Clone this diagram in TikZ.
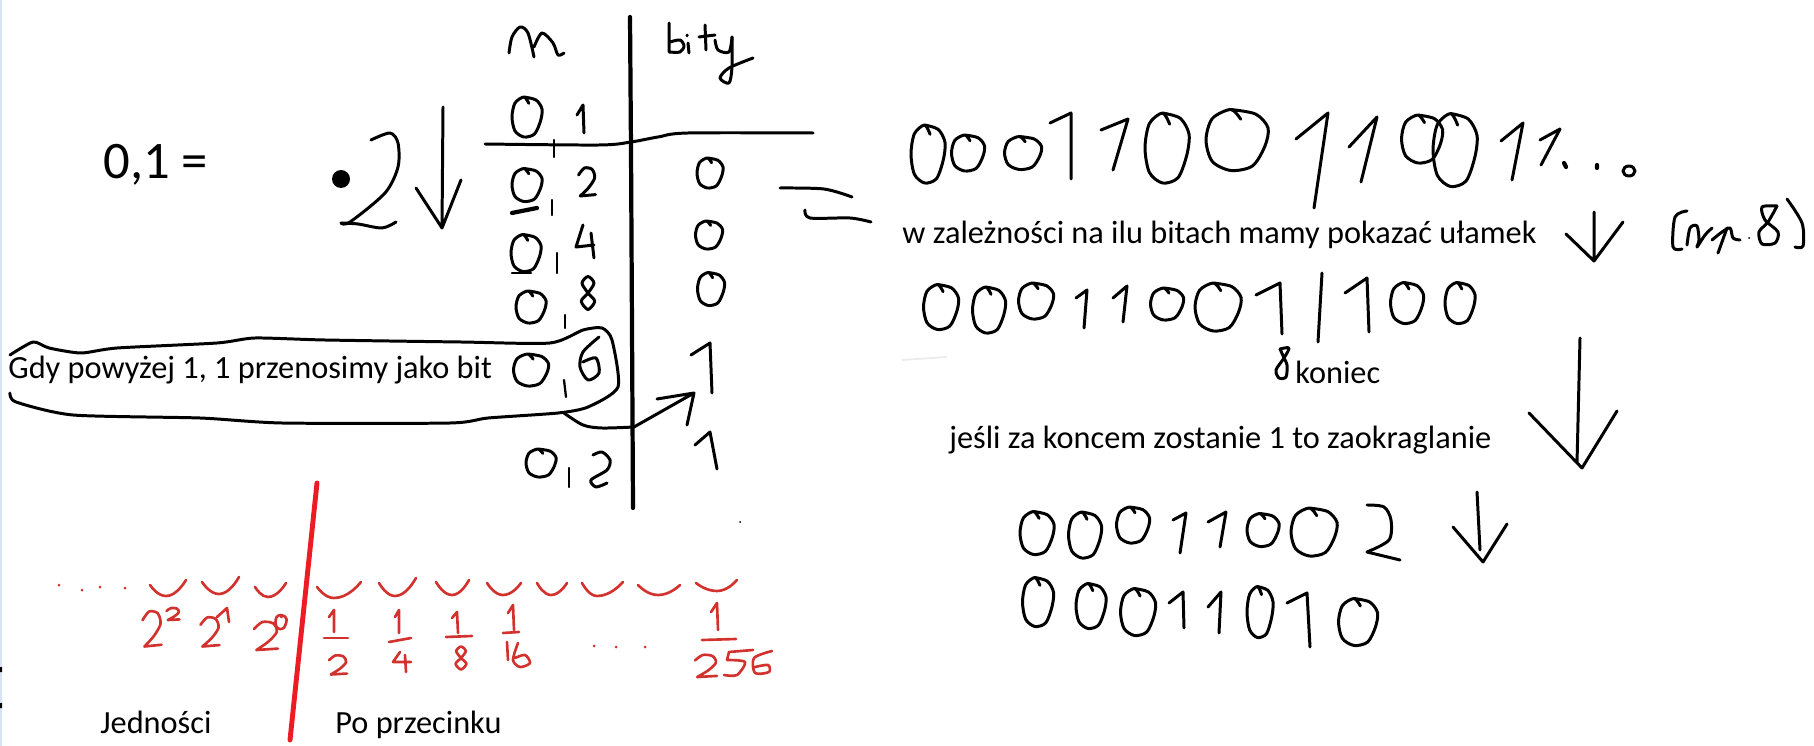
\documentclass[tikz,border=0pt]{standalone}
\usepackage{fontspec}
\setmainfont{Carlito}
\usetikzlibrary{arrows.meta,positioning}
\definecolor{handred}{HTML}{D2322D}
\definecolor{cutred}{HTML}{ED1C24}
\definecolor{edgeblue}{HTML}{D5E3F2}

\newcommand\zerodig[5][pen]{\draw[#1,shift={(#2,#3)},xscale=#4/2,yscale=#5/2] plot[smooth] coordinates {(0.12,-0.68)(-0.2,-1)(-0.8,-0.7)(-1,0)(-0.8,0.7)(-0.2,1)(0.5,0.85)(0.9,0.2)(1,-0.4)(0.6,-0.85)(-0.2,-1)};}
\newcommand\onedig[4][pen]{\draw[#1] (#2)--(#3)--(#4);}
\newcommand\twodig[5][pen]{\draw[#1,shift={(#2,#3)},xscale=#4/2,yscale=#5/2] plot[smooth] coordinates {(-1,-0.5)(-0.3,-1)(0.6,-0.9)(0.9,-0.3)(0.2,0.4)(-0.8,1)} -- (1,0.9);}
\newcommand\eightdig[5][pen]{\draw[#1,shift={(#2,#3)},xscale=#4/2,yscale=#5/2] plot[smooth cycle] coordinates {(0,-1)(0.8,-0.6)(0,0)(-0.9,0.5)(0,1)(0.9,0.5)(0,0)(-0.8,-0.6)};}
\newcommand\cupmark[3]{\draw[redpen] (#1) parabola bend (#2) (#3);}

\begin{document}
\begin{tikzpicture}[x=0.02cm,y=-0.02cm,
pen/.style={line width=1.7pt,line cap=round,line join=round},
thinpen/.style={line width=1.3pt,line cap=round,line join=round},
thickpen/.style={line width=2.4pt,line cap=round},
redpen/.style={line width=1.5pt,line cap=round,line join=round,color=handred},
typed/.style={anchor=west,inner sep=0pt,font=\fontsize{18.4pt}{21pt}\selectfont},
]
\useasboundingbox (0,0) rectangle (1814,746);
\fill[edgeblue] (0,0) rectangle (2,746);
\fill[black] (0,667) rectangle (2,672) (0,703) rectangle (2,708);

% typed text
\node[typed,font=\fontsize{30pt}{33pt}\selectfont] (frac) at (103,165) {0,1 =};
\node[typed] (rule) at (8,370) {Gdy powyżej 1, 1 przenosimy jako bit};
\node[typed] (depends) at (902,235) {w zależności na ilu bitach mamy pokazać ułamek};
\node[typed] (koniec) at (1295,372) {koniec};
\node[typed] (round) at (949,440) {jeśli za koncem zostanie 1 to zaokraglanie};
\node[typed] (units) at (100,722) {Jedności};
\node[typed] (after) at (335,725) {Po przecinku};

% table
\draw[line width=2.4pt,line cap=round] (630,17)--(631,150)--(633,508);
\draw[pen] plot[smooth] coordinates {(485,144)(599,145)(631,142)(658,137)(688,133)(813,133)};
\draw[pen] plot[smooth] coordinates {(509,53)(512,37)(520,27)(528,33)(534,57)};
\draw[pen] plot[smooth] coordinates {(534,47)(542,33)(553,43)(558,55)(564,53)};
\draw[pen] (669,23)--(669,52) plot[smooth] coordinates {(670,42)(680,40)(684,46)(680,52)(669,52)};
\draw[pen] (688,43)--(689,53) (687,35)--(687,36);
\draw[pen] (705,25)--(706,50) (699,37)--(715,35);
\draw[pen] plot[smooth] coordinates {(715,40)(718,50)(729,52)(732,37)};
\draw[pen] plot[smooth] coordinates {(732,37)(732,67)(729,83)(720,78)(729,68)(753,58)};

% left column
\zerodig{527}{117}{30}{40}
\draw[thinpen] (554,140)--(554,157);
\draw[pen] (577,115)--(583,105)--(584,133);
\zerodig{527}{185}{30}{33}
\draw[thickpen] (512,213)--(537,208);
\draw[thinpen] (552,200)--(552,215);
\twodig{587}{182}{17}{28}
\zerodig{526}{253}{30}{37}
\draw[thinpen] (512,273)--(531,273) (557,253)--(557,273);
\draw[pen] (583,225)--(576,247)--(594,245) (591,233)--(594,258);
\zerodig{531}{307}{30}{32}
\draw[thinpen] (565,315)--(565,328);
\eightdig{588}{293}{15}{33}
\zerodig{531}{370}{35}{32}
\draw[thinpen] (564,380)--(566,397);
\draw[pen] plot[smooth] coordinates {(599,337)(583,352)(580,367)(588,380)(599,373)(596,358)(583,362)};
\zerodig{541}{463}{30}{28}
\draw[thinpen] (569,468)--(569,487);
\draw[pen] plot[smooth] coordinates {(593,455)(602,452)(610,460)(607,470)(591,480)(596,487)(607,483)};

% bits column
\zerodig{710}{173}{26}{30}
\zerodig{709}{235}{27}{28}
\zerodig{711}{289}{27}{33}
\onedig{691,355}{710,343}{712,393}
\onedig{695,445}{710,432}{717,469}

% blob round the rule, and the move to the bit
\draw[pen] plot[smooth,tension=0.4] coordinates {(10,355)(33,342)(49,348)(81,353)(117,348)(217,343)(255,338)(325,340)(461,342)(550,343)(583,330)(602,328)(612,340)(618,387)(588,407)(558,413)(488,418)(450,423)(282,423)(200,418)(73,415)(16,402)(10,393)};
\draw[pen] plot[smooth] coordinates {(564,413)(583,425)(602,428)(634,427)};
\draw[pen] (634,427)--(694,393) (657,399)--(694,393)--(687,425);

% times two
\fill (341,179) circle[radius=9];
\draw[pen] plot[smooth] coordinates {(371,140)(390,133)(398,143)(398,167)(385,193)(350,222)(341,223)};
\draw[pen] plot[smooth] coordinates {(341,223)(358,224)(382,228)(396,222)};
\draw[pen] (443,107)--(442,228) (416,188)--(442,228)--(461,180);

% equals
\draw[pen] plot[smooth] coordinates {(780,188)(824,189)(852,197)};
\draw[pen] plot[smooth] coordinates {(805,210)(810,218)(850,218)(871,222)};

% first row
\zerodig{928}{154}{34}{58}
\zerodig{968}{153}{33}{36}
\zerodig{1023}{153}{37}{33}
\onedig{1050,123}{1071,113}{1071,179}
\onedig{1101,130}{1128,119}{1113,170}
\zerodig{1167}{148}{44}{70}
\zerodig{1237}{140}{62}{61}
\onedig{1296,139}{1328,113}{1314,208}
\onedig{1349,147}{1377,117}{1361,182}
\zerodig{1422}{139}{41}{48}
\zerodig{1455}{150}{44}{73}
\onedig{1501,141}{1523,123}{1512,180}
\onedig{1540,140}{1560,129}{1541,165}
\draw[thickpen] (1564,163)--(1566,167) (1597,165)--(1597,168);
\draw[pen] (1629,171) ellipse[x radius=6,y radius=5];
\draw[pen] (1594,212)--(1594,261) (1566,234)--(1594,261)--(1623,222);

% np. 8
\draw[pen] plot[smooth] coordinates {(1687,211)(1675,217)(1673,247)(1682,249)};
\draw[pen] plot[smooth] coordinates {(1687,245)(1690,228)(1697,226)(1699,240)(1697,247)(1705,235)(1712,228)};
\draw[pen] (1718,253)--(1727,228);
\draw[pen] plot[smooth] coordinates {(1712,240)(1722,232)(1730,228)(1733,238)(1740,240)};
\fill (1749,238) circle[radius=1];
\draw[pen] plot[smooth] coordinates {(1777,206)(1762,207)(1765,220)(1778,232)(1775,243)(1762,244)(1759,232)(1768,222)(1777,206)};
\draw[pen] plot[smooth] coordinates {(1787,199)(1802,223)(1803,246)(1795,247)};

% second row
\zerodig{941}{307}{35}{45}
\zerodig{989}{310}{33}{46}
\zerodig{1036}{301}{35}{36}
\onedig{1076,298}{1087,290}{1084,328}
\onedig{1113,298}{1127,286}{1123,322}
\zerodig{1167}{304}{33}{32}
\zerodig{1218}{307}{46}{48}
\onedig{1256,295}{1280,283}{1282,334}
\draw[pen] (1322,273)--(1318,342);
\onedig{1345,293}{1367,278}{1369,332}
\zerodig{1407}{303}{33}{41}
\zerodig{1460}{303}{30}{41}
\draw[pen] plot[smooth] coordinates {(1280,349)(1289,348)(1284,358)(1276,370)(1279,378)(1286,377)(1287,365)(1284,358)(1280,349)};
\draw[pen] (1580,338)--(1577,463) (1529,413)--(1582,468)--(1617,411);
\draw[line width=1pt,color=black!8] (902,360)--(947,357);

% third row
\zerodig{1037}{533}{34}{43}
\zerodig{1085}{535}{33}{46}
\zerodig{1133}{525}{33}{36}
\onedig{1173,520}{1186,513}{1180,553}
\onedig{1208,522}{1226,512}{1220,547}
\zerodig{1263}{530}{32}{33}
\zerodig{1314}{532}{46}{48}
\draw[pen] plot[smooth] coordinates {(1367,505)(1384,507)(1391,520)(1389,540)(1367,552)};
\draw[pen] (1367,552)--(1400,560);
\draw[pen] (1477,492)--(1480,550) (1453,527)--(1483,562)--(1507,524);

% fourth row
\zerodig{1038}{602}{31}{49}
\zerodig{1091}{606}{30}{45}
\zerodig{1138}{612}{35}{47}
\onedig{1169,603}{1183,592}{1184,628}
\onedig{1208,607}{1221,592}{1219,633}
\zerodig{1260}{612}{26}{51}
\onedig{1287,603}{1307,593}{1310,647}
\zerodig{1358}{622}{39}{47}

% place values
\draw[line width=2.8pt,line cap=round,color=cutred] (317,483)--(290,740);
\fill (740,522) circle[radius=1];
\foreach \px/\py in {59/585,82/590,100/587,125/588,594/646,616/647,645/647}
  \fill[handred] (\px,\py) circle[radius=1.5];
\cupmark{150,585}{166,596}{186,580}
\cupmark{202,582}{219,594}{239,577}
\cupmark{255,587}{268,597}{286,583}
\cupmark{317,587}{334,598}{361,582}
\cupmark{379,583}{395,596}{416,578}
\cupmark{436,582}{452,595}{469,580}
\cupmark{487,583}{503,595}{521,583}
\cupmark{537,583}{551,595}{567,583}
\cupmark{582,583}{597,596}{623,582}
\cupmark{638,585}{658,595}{680,585}
\cupmark{696,583}{717,591}{737,580}
\twodig[redpen]{152}{629}{19}{35}
\twodig[redpen]{173}{614}{13}{12}
\twodig[redpen]{210}{632}{19}{29}
\onedig[redpen]{217,617}{227,608}{229,622}
\twodig[redpen]{266}{636}{24}{28}
\zerodig[redpen]{281}{622}{11}{14}
\onedig[redpen]{329,617}{334,610}{334,632}
\draw[redpen] (324,638)--(348,638);
\twodig[redpen]{338}{665}{18}{19}
\onedig[redpen]{395,617}{399,610}{399,633}
\draw[redpen] (389,642)--(411,638);
\draw[redpen] (400,652)--(393,662)--(411,662) (405,655)--(406,672);
\onedig[redpen]{452,618}{457,612}{458,633}
\draw[redpen] (446,637)--(472,636);
\eightdig[redpen]{461}{658}{12}{23}
\onedig[redpen]{508,613}{513,605}{514,630}
\draw[redpen] (503,633)--(519,632) (507,642)--(508,660);
\draw[redpen] plot[smooth] coordinates {(518,643)(513,660)(520,667)(530,663)(525,655)(515,658)};
\onedig[redpen]{711,612}{717,603}{718,630}
\draw[redpen] (702,640)--(736,639);
\twodig[redpen]{706}{666}{22}{22}
\draw[redpen] (753,650)--(729,652)--(727,660) plot[smooth] coordinates {(727,660)(745,662)(737,675)(724,675)};
\draw[redpen] plot[smooth] coordinates {(772,651)(754,658)(755,673)(769,672)(768,665)(755,667)};
\end{tikzpicture}
\end{document}
